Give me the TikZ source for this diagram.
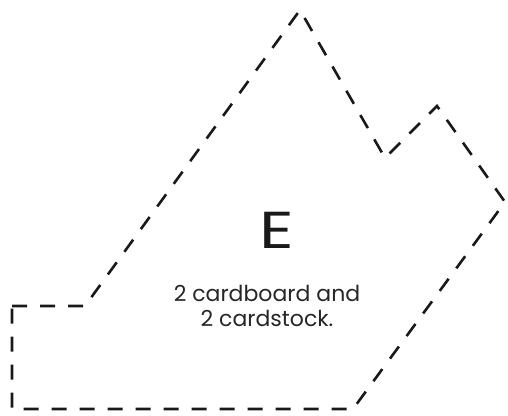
\documentclass[tikz,border=0pt]{standalone}
\usepackage{fontspec}
\setmainfont{Poppins}

\begin{document}
\begin{tikzpicture}[x=1pt, y=-1pt,
    cutline/.style={draw=black!90, line width=2.6pt, dash pattern=on 15pt off 13pt},
    piecename/.style={font=\fontsize{52}{52}\selectfont, inner sep=0pt, text=black!90},
    piecenote/.style={font=\fontsize{22}{25}\selectfont, align=center, inner sep=0pt, text=black!85},
    ]
    \useasboundingbox (0,0) rectangle (508,415);
    % outline of piece E
    \draw[cutline] (12,306) -- (85,306) -- (300,10) -- (385,158) -- (437,106)
        -- (505,202) -- (353,409) -- (12,409) -- cycle;
    \node[piecename] (letter) at (277,230) {\scalebox{1.3}[1]{E}};
    \node[piecenote] (note) at (267,306) {2 cardboard and\\ 2 cardstock.};
\end{tikzpicture}
\end{document}
